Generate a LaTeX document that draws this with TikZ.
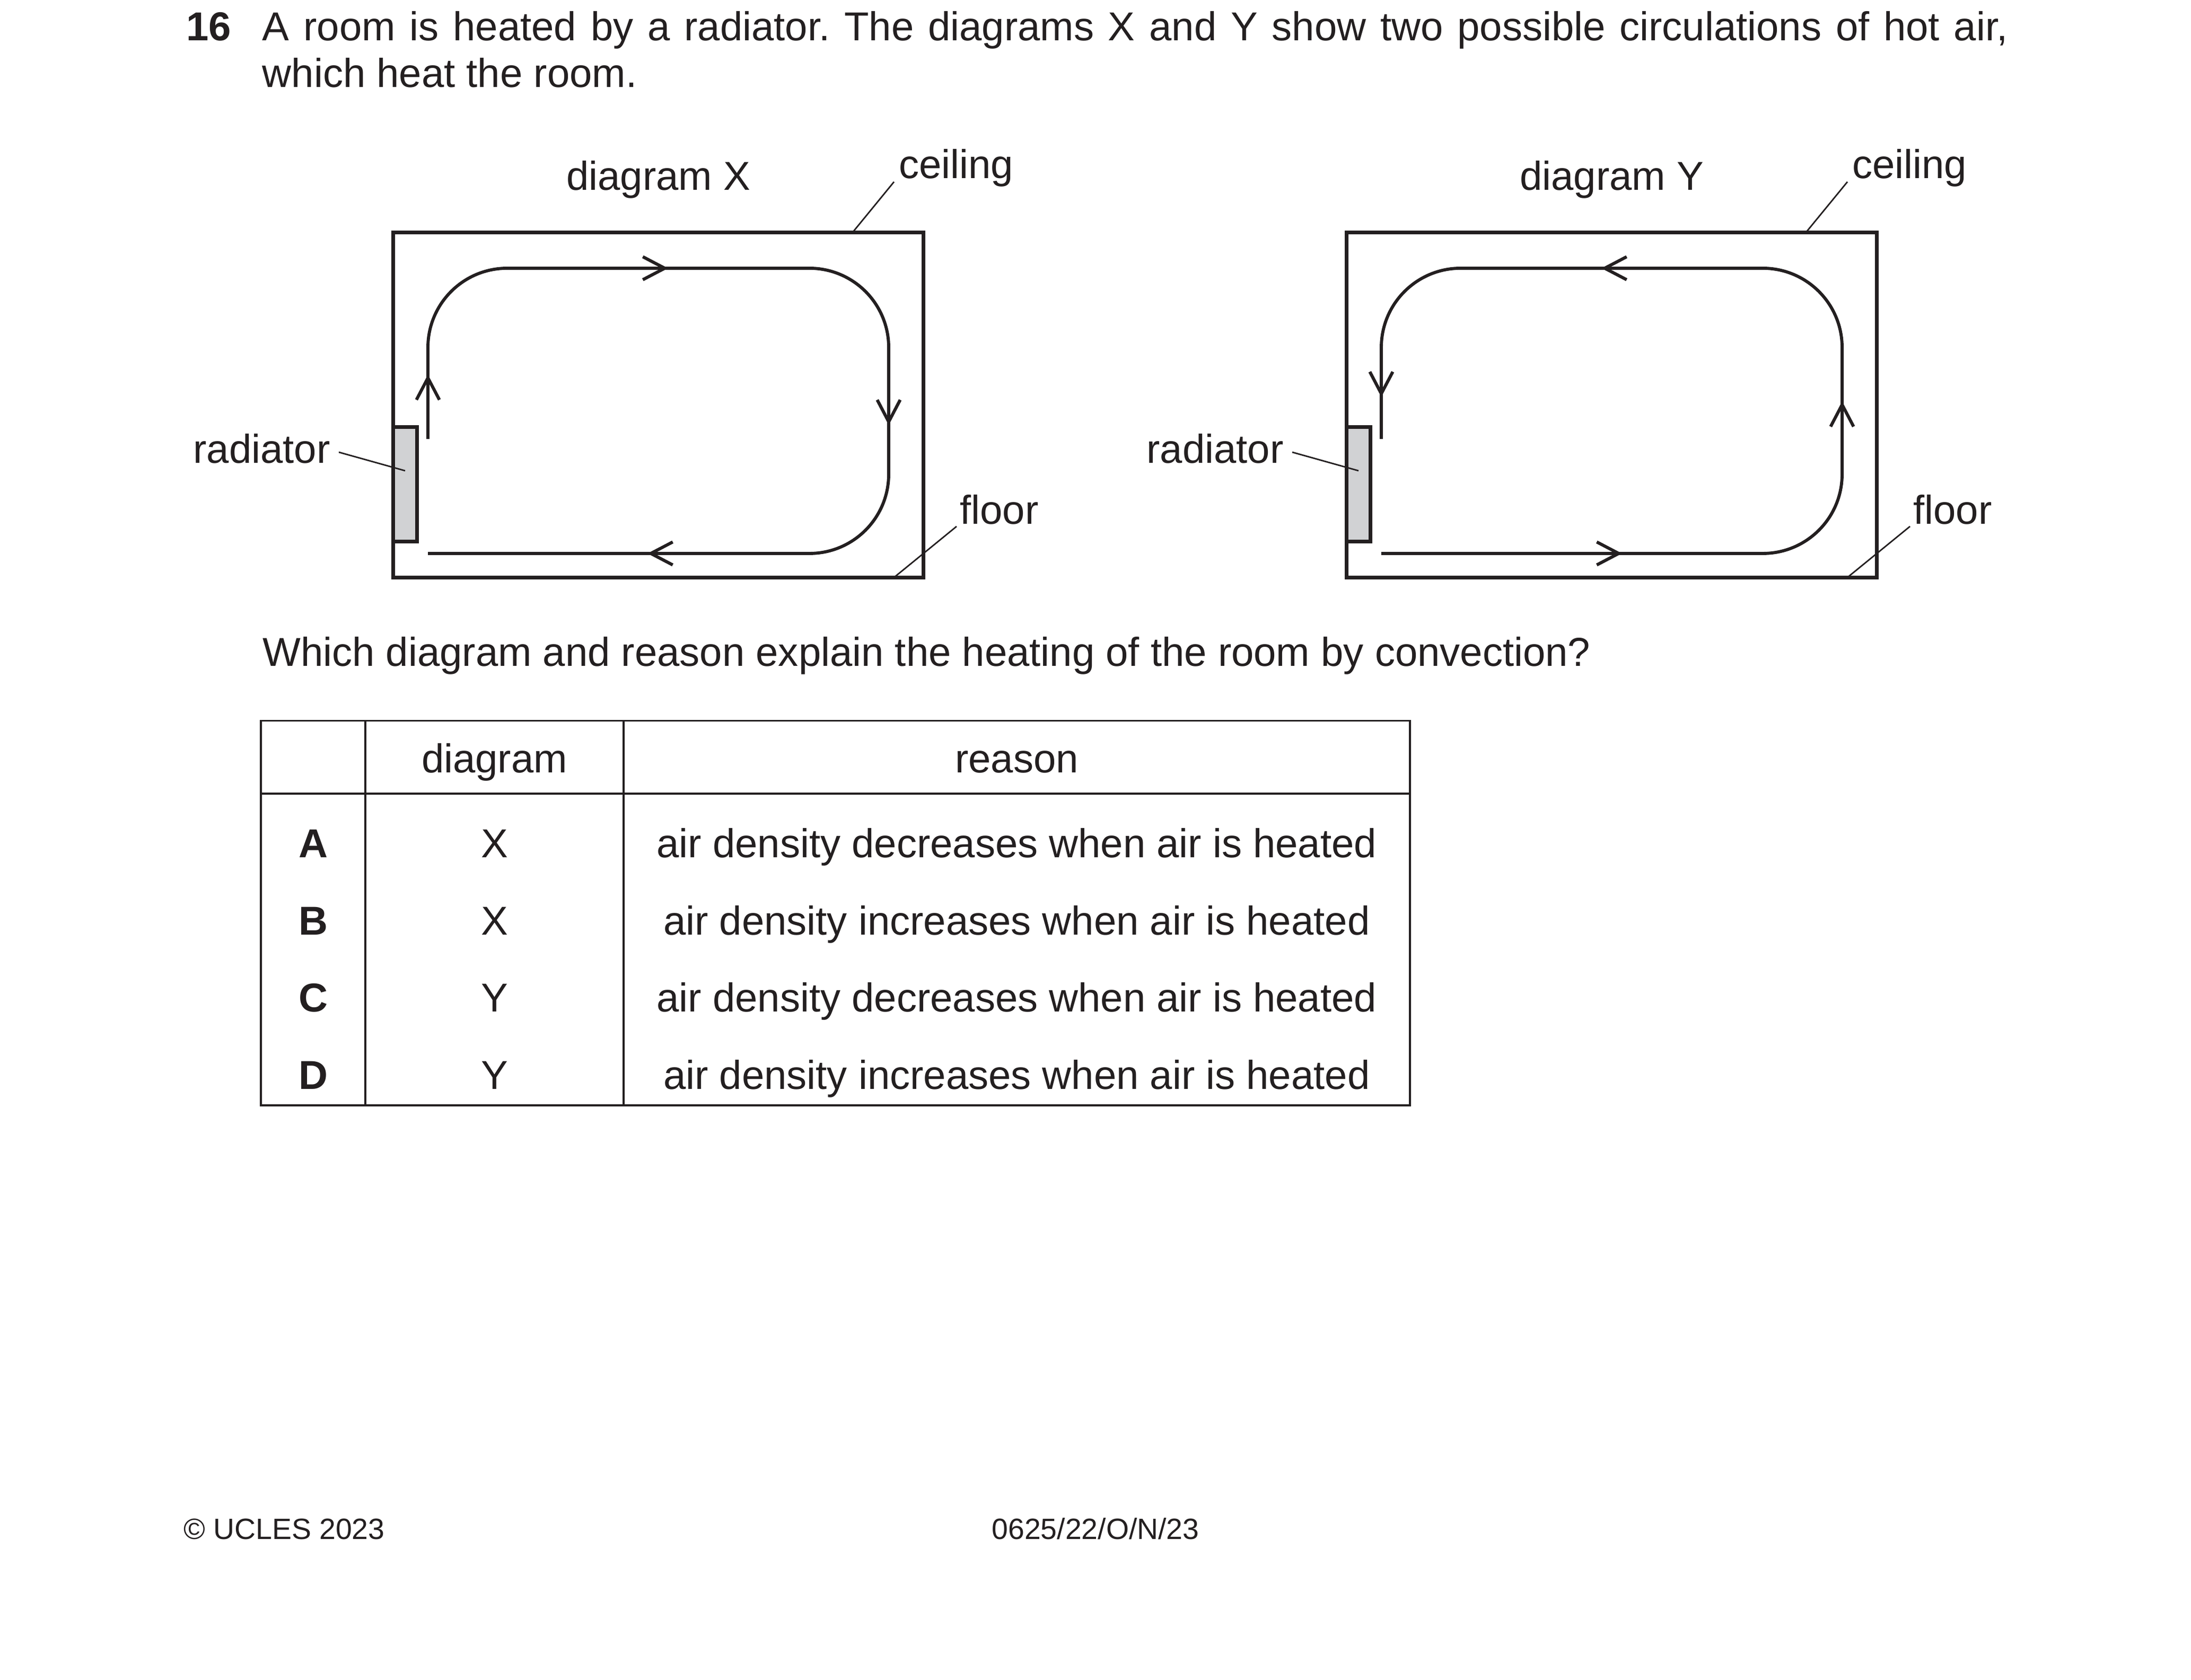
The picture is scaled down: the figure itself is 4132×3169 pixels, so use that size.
\documentclass[tikz,border=0pt]{standalone}
\usepackage{fontspec}
\setmainfont{Liberation Sans}
\usepackage{xcolor}
\usetikzlibrary{arrows.meta}
\definecolor{ink}{RGB}{35, 31, 32}
\definecolor{radgray}{RGB}{209, 210, 212}
\frenchspacing

\begin{document}
\begin{tikzpicture}[x=0.0050823cm, y=-0.0050823cm,
    every node/.style={inner sep=0pt, text=ink, font=\fontsize{11}{13}\selectfont},
    foottext/.style={font=\fontsize{8}{9.6}\selectfont},
    roomwall/.style={draw=ink, line width=1pt},
    heater/.style={draw=ink, fill=radgray, line width=1pt},
    flow/.style={draw=ink, line width=0.85pt, rounded corners=0.76cm},
    flowtip/.style={draw=ink, line width=0.85pt, -{Straight Barb[length=2.1mm, width=2.2mm]}},
    leaderline/.style={draw=ink, line width=0.4pt},
    tableline/.style={draw=ink, line width=0.5pt}]
    \useasboundingbox (0, 0) rectangle (4132, 3169);

    % question stem
    \node[anchor=base west, font=\fontsize{11}{13}\selectfont\bfseries] (qnum) at (350, 77) {16};
    \node[anchor=base west] (stemA) at (493.6, 77) {\makebox[16.726cm][s]{A room is heated by a radiator. The diagrams X and Y show two possible circulations of hot air,}};
    \node[anchor=base west] (stemB) at (493.6, 165) {which heat the room.};

    % diagram X
    \begin{scope}
        \draw[roomwall] (741.7, 438.3) rectangle (1741.7, 1089.3);
        \draw[heater] (741.7, 805.7) rectangle (786.7, 1021.3);
        \draw[flow] (807, 828) -- (807, 506) -- (1676, 506) -- (1676, 1044) -- (807, 1044);
        \draw[flowtip] (1215, 506) -- (1260, 506);
        \draw[flowtip] (807, 751) -- (807, 706.5);
        \draw[flowtip] (1676, 757) -- (1676, 802);
        \draw[flowtip] (1266, 1044) -- (1221, 1044);

        \node[anchor=base] (titleX) at (1241.7, 359) {diagram X};
        \node[anchor=base west] (ceilX) at (1694, 337) {ceiling};
        \node[anchor=base east] (radX) at (624, 874) {radiator};
        \node[anchor=base west] (floorX) at (1809, 989) {floor};
        \coordinate (ceilptX) at (1608, 438.3);
        \coordinate (radptX) at (764, 888);
        \coordinate (floorptX) at (1686, 1089.3);
        \draw[leaderline] ([shift={(-8, 6)}]ceilX.base west) -- (ceilptX);
        \draw[leaderline] ([shift={(15, -21)}]radX.base east) -- (radptX);
        \draw[leaderline] ([shift={(-5, 4)}]floorX.base west) -- (floorptX);
    \end{scope}

    % diagram Y
    \begin{scope}[shift={(1798, 0)}]
        \draw[roomwall] (741.7, 438.3) rectangle (1741.7, 1089.3);
        \draw[heater] (741.7, 805.7) rectangle (786.7, 1021.3);
        \draw[flow] (807, 828) -- (807, 506) -- (1676, 506) -- (1676, 1044) -- (807, 1044);
        \draw[flowtip] (1267, 506) -- (1222, 506);
        \draw[flowtip] (807, 704) -- (807, 749);
        \draw[flowtip] (1676, 802) -- (1676, 757);
        \draw[flowtip] (1216, 1044) -- (1261, 1044);

        \node[anchor=base] (titleY) at (1241.7, 359) {diagram Y};
        \node[anchor=base west] (ceilY) at (1694, 337) {ceiling};
        \node[anchor=base east] (radY) at (624, 874) {radiator};
        \node[anchor=base west] (floorY) at (1809, 989) {floor};
        \coordinate (ceilptY) at (1608, 438.3);
        \coordinate (radptY) at (764, 888);
        \coordinate (floorptY) at (1686, 1089.3);
        \draw[leaderline] ([shift={(-8, 6)}]ceilY.base west) -- (ceilptY);
        \draw[leaderline] ([shift={(15, -21)}]radY.base east) -- (radptY);
        \draw[leaderline] ([shift={(-5, 4)}]floorY.base west) -- (floorptY);
    \end{scope}

    \node[anchor=base west] (ask) at (494, 1257) {Which diagram and reason explain the heating of the room by convection?};

    % answer table
    \draw[tableline] (492, 1359.3) rectangle (2659, 2085);
    \draw[tableline] (492, 1497) -- (2659, 1497);
    \draw[tableline] (689, 1359.3) -- (689, 2085);
    \draw[tableline] (1176, 1359.3) -- (1176, 2085);

    \node[anchor=base] (hdrdiag) at (932.5, 1458) {diagram};
    \node[anchor=base] (hdrreason) at (1917.5, 1458) {reason};

    \node[anchor=base, font=\fontsize{11}{13}\selectfont\bfseries] (keyA) at (590.5, 1618) {A};
    \node[anchor=base] (diagA) at (932.5, 1618) {X};
    \node[anchor=base] (reasonA) at (1917.5, 1618) {air density decreases when air is heated};

    \node[anchor=base, font=\fontsize{11}{13}\selectfont\bfseries] (keyB) at (590.5, 1764) {B};
    \node[anchor=base] (diagB) at (932.5, 1764) {X};
    \node[anchor=base] (reasonB) at (1917.5, 1764) {air density increases when air is heated};

    \node[anchor=base, font=\fontsize{11}{13}\selectfont\bfseries] (keyC) at (590.5, 1909) {C};
    \node[anchor=base] (diagC) at (932.5, 1909) {Y};
    \node[anchor=base] (reasonC) at (1917.5, 1909) {air density decreases when air is heated};

    \node[anchor=base, font=\fontsize{11}{13}\selectfont\bfseries] (keyD) at (590.5, 2055) {D};
    \node[anchor=base] (diagD) at (932.5, 2055) {Y};
    \node[anchor=base] (reasonD) at (1917.5, 2055) {air density increases when air is heated};

    % footer
    \node[foottext, anchor=base west] (copyr) at (345, 2904) {© UCLES 2023};
    \node[foottext, anchor=base] (paper) at (2066, 2904) {0625/22/O/N/23};
\end{tikzpicture}
\end{document}
